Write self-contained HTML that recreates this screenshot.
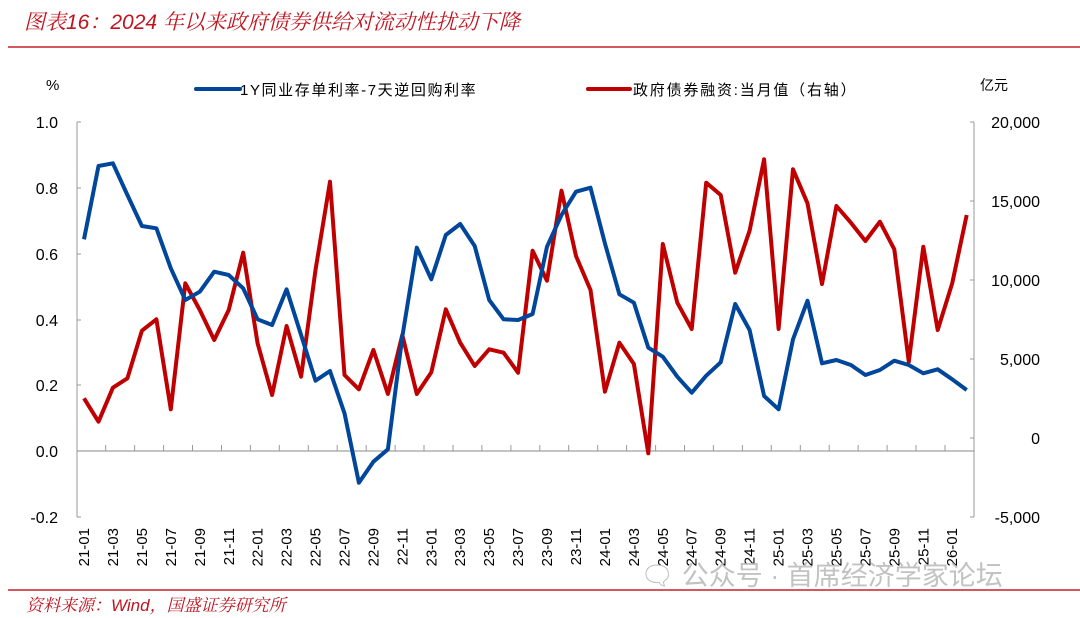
<!DOCTYPE html>
<html><head><meta charset="utf-8"><style>
html,body{margin:0;padding:0;background:#fff;}
svg{display:block;}
text{font-family:"Liberation Sans","Noto Sans CJK SC",sans-serif;}
</style></head><body>
<svg width="1080" height="618" viewBox="0 0 1080 618" xmlns="http://www.w3.org/2000/svg">
<text x="24" y="29" font-size="21" font-style="italic" fill="#c0141f" style="font-family:'Liberation Sans','Noto Serif CJK SC',serif">图表16：2024 年以来政府债券供给对流动性扰动下降</text>
<line x1="8" y1="47" x2="1080" y2="47" stroke="#c8202a" stroke-width="1.5"/>
<line x1="8" y1="590" x2="1080" y2="590" stroke="#c8202a" stroke-width="1.5"/>
<text x="26" y="611" font-size="17" font-style="italic" fill="#c0141f" style="font-family:'Liberation Sans','Noto Serif CJK SC',serif">资料来源：Wind，国盛证券研究所</text>

<text x="46" y="90" font-size="15" fill="#000">%</text>
<text x="980" y="90" font-size="14" fill="#000">亿元</text>
<line x1="196" y1="89" x2="240" y2="89" stroke="#00469a" stroke-width="4" stroke-linecap="round"/>
<text x="240" y="95" font-size="15" fill="#000" letter-spacing="1.6">1Y同业存单利率-7天逆回购利率</text>
<line x1="588" y1="89" x2="630" y2="89" stroke="#c00000" stroke-width="4" stroke-linecap="round"/>
<text x="633" y="95" font-size="15" fill="#000" letter-spacing="1.8">政府债券融资:当月值（右轴）</text>

<g stroke="#999" stroke-width="1" fill="none">
<line x1="77" y1="122" x2="77" y2="517"/>
<line x1="77" y1="122" x2="81" y2="122"/><line x1="77" y1="188" x2="81" y2="188"/><line x1="77" y1="254" x2="81" y2="254"/><line x1="77" y1="320" x2="81" y2="320"/><line x1="77" y1="385" x2="81" y2="385"/><line x1="77" y1="517" x2="81" y2="517"/>
<line x1="974" y1="122" x2="974" y2="517"/>
<line x1="970" y1="122" x2="974" y2="122"/><line x1="970" y1="201" x2="974" y2="201"/><line x1="970" y1="280" x2="974" y2="280"/><line x1="970" y1="359" x2="974" y2="359"/><line x1="970" y1="438" x2="974" y2="438"/><line x1="970" y1="517" x2="974" y2="517"/>
<line x1="77" y1="451" x2="974" y2="451" stroke="#888"/>
</g>
<g stroke="#999" stroke-width="1">
<path d="M105.7 451v-6M134.6 451v-6M163.6 451v-6M192.5 451v-6M221.5 451v-6M250.4 451v-6M279.3 451v-6M308.3 451v-6M337.2 451v-6M366.2 451v-6M395.1 451v-6M424 451v-6M453 451v-6M481.9 451v-6M510.9 451v-6M539.8 451v-6M568.7 451v-6M597.7 451v-6M626.6 451v-6M655.6 451v-6M684.5 451v-6M713.4 451v-6M742.4 451v-6M771.3 451v-6M800.3 451v-6M829.2 451v-6M858.1 451v-6M887.1 451v-6M916 451v-6M945 451v-6"/>
</g>
<g font-size="16" fill="#000" text-anchor="end">
<text x="58" y="128">1.0</text><text x="58" y="194">0.8</text><text x="58" y="260">0.6</text><text x="58" y="326">0.4</text><text x="58" y="391">0.2</text><text x="58" y="457">0.0</text><text x="58" y="523">-0.2</text>
</g>
<g font-size="16" fill="#000" text-anchor="end">
<text x="1040" y="128">20,000</text><text x="1040" y="207">15,000</text><text x="1040" y="286">10,000</text><text x="1040" y="365">5,000</text><text x="1040" y="444">0</text><text x="1040" y="523">-5,000</text>
</g>
<g font-size="15" fill="#000" text-anchor="end">
<text transform="translate(89,528) rotate(-90)">21-01</text>
<text transform="translate(118,528) rotate(-90)">21-03</text>
<text transform="translate(147,528) rotate(-90)">21-05</text>
<text transform="translate(176,528) rotate(-90)">21-07</text>
<text transform="translate(205,528) rotate(-90)">21-09</text>
<text transform="translate(234,528) rotate(-90)">21-11</text>
<text transform="translate(262.6,528) rotate(-90)">22-01</text>
<text transform="translate(291.6,528) rotate(-90)">22-03</text>
<text transform="translate(320.5,528) rotate(-90)">22-05</text>
<text transform="translate(349.5,528) rotate(-90)">22-07</text>
<text transform="translate(378.4,528) rotate(-90)">22-09</text>
<text transform="translate(407.3,528) rotate(-90)">22-11</text>
<text transform="translate(436.3,528) rotate(-90)">23-01</text>
<text transform="translate(465.2,528) rotate(-90)">23-03</text>
<text transform="translate(494.2,528) rotate(-90)">23-05</text>
<text transform="translate(523.1,528) rotate(-90)">23-07</text>
<text transform="translate(552,528) rotate(-90)">23-09</text>
<text transform="translate(581,528) rotate(-90)">23-11</text>
<text transform="translate(609.9,528) rotate(-90)">24-01</text>
<text transform="translate(638.9,528) rotate(-90)">24-03</text>
<text transform="translate(667.8,528) rotate(-90)">24-05</text>
<text transform="translate(696.7,528) rotate(-90)">24-07</text>
<text transform="translate(725.7,528) rotate(-90)">24-09</text>
<text transform="translate(754.6,528) rotate(-90)">24-11</text>
<text transform="translate(783.6,528) rotate(-90)">25-01</text>
<text transform="translate(812.5,528) rotate(-90)">25-03</text>
<text transform="translate(841.4,528) rotate(-90)">25-05</text>
<text transform="translate(870.4,528) rotate(-90)">25-07</text>
<text transform="translate(899.3,528) rotate(-90)">25-09</text>
<text transform="translate(928.3,528) rotate(-90)">25-11</text>
<text transform="translate(957.2,528) rotate(-90)">26-01</text>
</g>

<polyline fill="none" stroke="#c00000" stroke-width="4" stroke-linejoin="round" points="84,398.3 98.5,421.7 112.9,387.7 127.4,378.3 141.9,330.7 156.4,319.3 170.8,409.3 185.3,283.3 199.8,310 214.2,340 228.7,310 243.2,252.7 257.6,343.3 272.1,395 286.6,326 301.1,376.7 315.5,270 330,181.7 344.5,375 358.9,389.3 373.4,350 387.9,394 402.3,335 416.8,394 431.3,372.3 445.8,309.3 460.2,342.7 474.7,366 489.2,349.3 503.6,352.7 518.1,372.7 532.6,250.7 547,280.7 561.5,190.7 576,256 590.5,290 604.9,391.7 619.4,342.7 633.9,364 648.3,453.3 662.8,244 677.3,302.7 691.7,329 706.2,182.7 720.7,195 735.2,272.7 749.6,230.7 764.1,159.3 778.6,329 793,169.3 807.5,203.3 822,284 836.4,206 850.9,222.7 865.4,241 879.9,221.7 894.3,249.3 908.8,361.7 923.3,246.7 937.7,330 952.2,283.3 966.7,215"/>
<polyline fill="none" stroke="#00469a" stroke-width="4" stroke-linejoin="round" points="84,239.3 98.5,166 112.9,163.3 127.4,195 141.9,226 156.4,228.3 170.8,268.3 185.3,300 199.8,291.7 214.2,271.7 228.7,275 243.2,288.3 257.6,319.3 272.1,325 286.6,289.3 301.1,335 315.5,380.7 330,371 344.5,413.3 358.9,482.7 373.4,461.7 387.9,449.3 402.3,336.7 416.8,247.7 431.3,279.3 445.8,235 460.2,224 474.7,246 489.2,300 503.6,319.3 518.1,320 532.6,314 547,246.7 561.5,215 576,191.7 590.5,187.7 604.9,243.3 619.4,294.3 633.9,302.7 648.3,347.7 662.8,356.7 677.3,376.7 691.7,392.7 706.2,375.7 720.7,362.3 735.2,304 749.6,330 764.1,396 778.6,409.3 793,339.3 807.5,300.7 822,363.3 836.4,360 850.9,365 865.4,375 879.9,370 894.3,360.7 908.8,365 923.3,373.3 937.7,369.3 952.2,379.3 966.7,390"/>

<text x="640" y="585" font-size="27" fill="#b8b8b8" opacity="0.85">🗨 公众号 · 首席经济学家论坛</text>
</svg>
</body></html>
